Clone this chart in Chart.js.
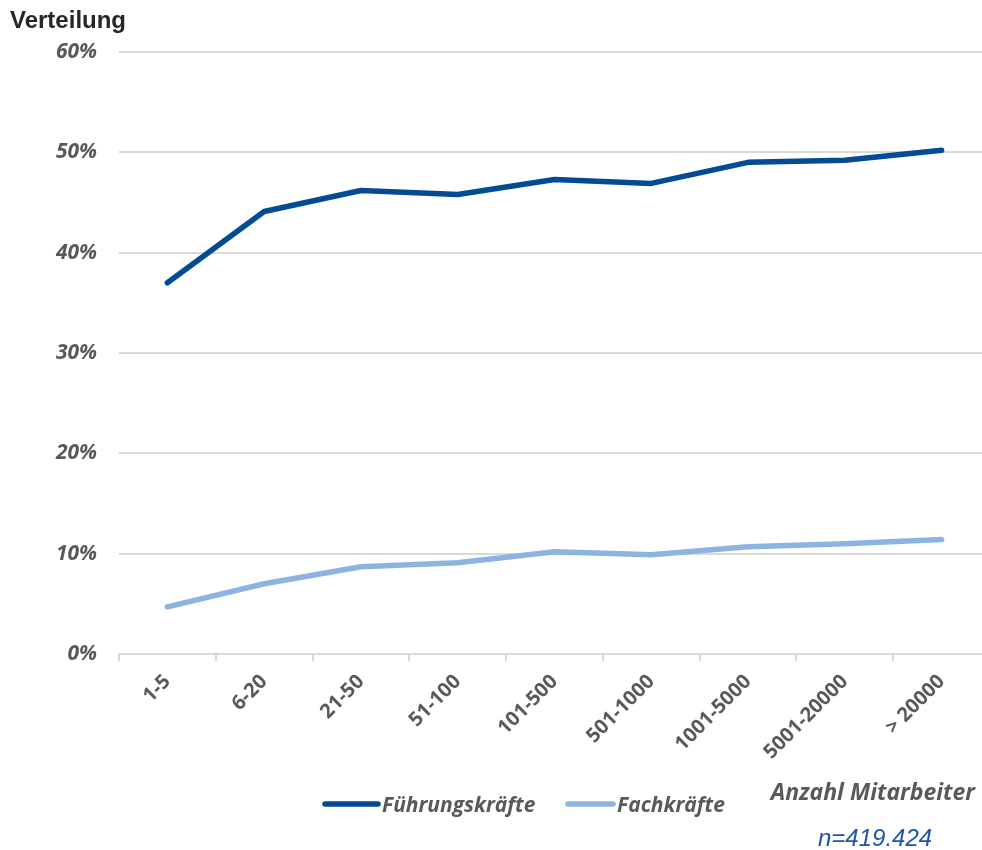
<!DOCTYPE html>
<html lang="de">
<head>
<meta charset="utf-8">
<title>Verteilung nach Anzahl Mitarbeiter</title>
<script src="https://cdn.jsdelivr.net/npm/chart.js@4.4.1/dist/chart.umd.min.js"></script>
<style>
    html, body { margin: 0; padding: 0; background: #ffffff; overflow: hidden; }
    #wrap { position: relative; width: 992px; height: 850px; }
</style>
</head>
<body>
<div id="wrap"><canvas id="chart" width="992" height="850"></canvas></div>
<script>
// Daten
const categories = ['1-5', '6-20', '21-50', '51-100', '101-500', '501-1000', '1001-5000', '5001-20000', '> 20000'];
const fuehrungskraefte = [0.370, 0.441, 0.462, 0.458, 0.473, 0.469, 0.490, 0.492, 0.502];
const fachkraefte = [0.047, 0.070, 0.087, 0.091, 0.102, 0.099, 0.107, 0.110, 0.114];
const yTicks = [0, 0.1, 0.2, 0.3, 0.4, 0.5, 0.6];

const darkBlue = '#034b94';
const lightBlue = '#8cb4e1';
const gridColor = '#d9d9d9';
const textGray = '#595959';

// Texte, Legende usw. direkt auf den Canvas zeichnen
const annotations = {
    id: 'annotations',
    afterDraw(chart) {
        const ctx = chart.ctx;
        ctx.save();
        ctx.textBaseline = 'alphabetic';

        // Titel
        ctx.fillStyle = '#262626';
        ctx.font = 'bold 24px "Liberation Sans", Arial, sans-serif';
        ctx.textAlign = 'left';
        ctx.fillText('Verteilung', 10, 28);

        // Achsentitel
        ctx.fillStyle = textGray;
        ctx.font = 'italic bold 23px "Open Sans", sans-serif';
        ctx.textAlign = 'right';
        ctx.fillText('Anzahl Mitarbeiter', 975, 800);

        // Legende
        const items = [
            { x: 325, w: 53 },
            { x: 568, w: 45 }
        ];
        ctx.font = 'italic bold 21px "Open Sans", sans-serif';
        ctx.textAlign = 'left';
        chart.data.datasets.forEach((ds, i) => {
            const it = items[i];
            ctx.strokeStyle = ds.borderColor;
            ctx.lineWidth = 5.5;
            ctx.lineCap = 'round';
            ctx.beginPath();
            ctx.moveTo(it.x, 804);
            ctx.lineTo(it.x + it.w, 804);
            ctx.stroke();
            ctx.fillStyle = textGray;
            ctx.fillText(ds.label, it.x + it.w + 4, 812);
        });

        // Stichprobe
        ctx.fillStyle = '#1f55a3';
        ctx.font = 'italic 24px "Liberation Sans", Arial, sans-serif';
        ctx.textAlign = 'left';
        ctx.fillText('n=419.424', 818, 846);

        ctx.restore();
    }
};

const ctx = document.getElementById('chart').getContext('2d');
new Chart(ctx, {
    type: 'line',
    data: {
        labels: categories,
        datasets: [
            {
                label: 'Führungskräfte',
                data: fuehrungskraefte,
                borderColor: darkBlue,
                backgroundColor: darkBlue,
                borderWidth: 5.5,
                borderCapStyle: 'round',
                borderJoinStyle: 'round',
                pointRadius: 0,
                tension: 0
            },
            {
                label: 'Fachkräfte',
                data: fachkraefte,
                borderColor: lightBlue,
                backgroundColor: lightBlue,
                borderWidth: 5.5,
                borderCapStyle: 'round',
                borderJoinStyle: 'round',
                pointRadius: 0,
                tension: 0
            }
        ]
    },
    options: {
        responsive: false,
        animation: false,
        maintainAspectRatio: false,
        layout: { padding: { top: 52, left: 0, right: 2, bottom: 0 } },
        plugins: {
            legend: { display: false },
            tooltip: { enabled: false }
        },
        scales: {
            x: {
                offset: true,
                grid: {
                    display: true,
                    drawOnChartArea: false,
                    color: gridColor,
                    lineWidth: 2,
                    tickLength: 7,
                    offset: true
                },
                border: { display: true, color: gridColor, width: 2 },
                ticks: {
                    color: textGray,
                    font: { family: '"Open Sans", sans-serif', size: 20, weight: 'bold' },
                    minRotation: 45,
                    maxRotation: 45,
                    padding: 9,
                    autoSkip: false
                },
                afterFit(scale) { scale.height = 196; }
            },
            y: {
                min: 0,
                max: 0.6,
                afterBuildTicks(scale) {
                    scale.ticks = yTicks.map(v => ({ value: v }));
                },
                grid: {
                    color: gridColor,
                    lineWidth: 2,
                    drawTicks: false
                },
                border: { display: false },
                ticks: {
                    color: textGray,
                    font: { family: '"Open Sans", sans-serif', size: 21, weight: 'bold', style: 'italic' },
                    padding: 22,
                    callback: v => Math.round(v * 100) + '%'
                },
                afterFit(scale) { scale.width = 119; }
            }
        }
    },
    plugins: [annotations]
});
</script>
</body>
</html>
